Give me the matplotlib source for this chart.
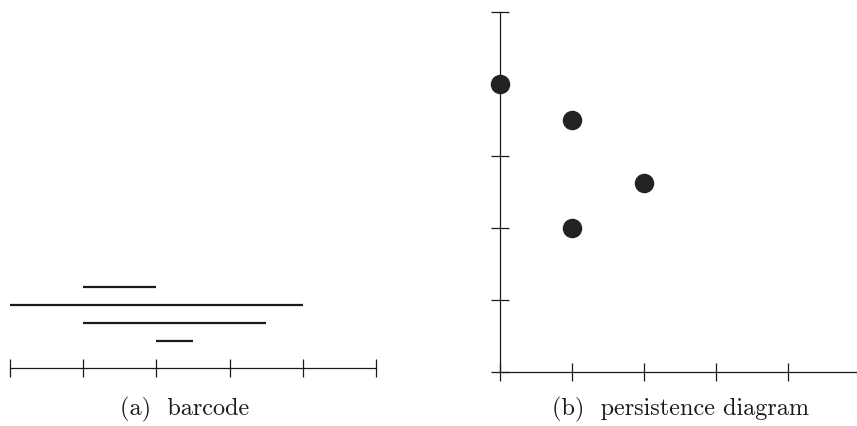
import matplotlib
matplotlib.use("Agg")
import matplotlib.pyplot as plt

# Barcode intervals (top to bottom)
bar_births = [1, 0, 1, 2]
bar_deaths = [2, 4, 3.5, 2.5]
bar_levels = [4.5, 3.5, 2.5, 1.5]
barcode_ticks = [0, 1, 2, 3, 4, 5]

# Persistence diagram points (birth, death)
pd_births = [0, 1, 2, 1]
pd_deaths = [4, 3.5, 2.62, 2]
pd_xticks = [0, 1, 2, 3, 4]
pd_yticks = [0, 1, 2, 3, 4, 5]

captions = ["(a)  barcode", "(b)  persistence diagram"]

W, H = 857, 427
fig = plt.figure(figsize=(W / 100, H / 100), dpi=100)
ink = "#1a1a1a"

# ---- barcode ----
axL = fig.add_axes([10 / W, (H - 369) / H, 366 / W, 90 / H])
axL.hlines(bar_levels, bar_births, bar_deaths, color=ink, lw=1.6)
axL.set_xlim(0, 5)
axL.set_ylim(0, 5)
for s in ["top", "right", "left"]:
    axL.spines[s].set_visible(False)
axL.spines["bottom"].set_linewidth(0.9)
axL.spines["bottom"].set_color(ink)
axL.set_xticks(barcode_ticks)
axL.set_xticklabels([])
axL.set_yticks([])
axL.tick_params(axis="x", direction="inout", length=13, width=0.9, color=ink)
axL.patch.set_visible(False)

# ---- persistence diagram ----
axR = fig.add_axes([500 / W, (H - 373) / H, 357 / W, 360 / H])
axR.scatter(pd_births, pd_deaths, s=170, color="#222222", zorder=3, clip_on=False)
axR.set_xlim(0, 357 / 72)
axR.set_ylim(0, 5)
for s in ["top", "right"]:
    axR.spines[s].set_visible(False)
for s in ["left", "bottom"]:
    axR.spines[s].set_linewidth(0.9)
    axR.spines[s].set_color(ink)
axR.set_xticks(pd_xticks)
axR.set_yticks(pd_yticks)
axR.set_xticklabels([])
axR.set_yticklabels([])
axR.tick_params(direction="inout", length=13, width=0.9, color=ink)
axR.patch.set_visible(False)

# ---- captions ----
fig.text(185 / W, 1 - 409 / H, captions[0], ha="center", va="center",
         fontsize=17.5, family="cmr10", color=ink)
fig.text(681 / W, 1 - 409 / H, captions[1], ha="center", va="center",
         fontsize=17.5, family="cmr10", color=ink)

fig.savefig("out.png", dpi=100)
